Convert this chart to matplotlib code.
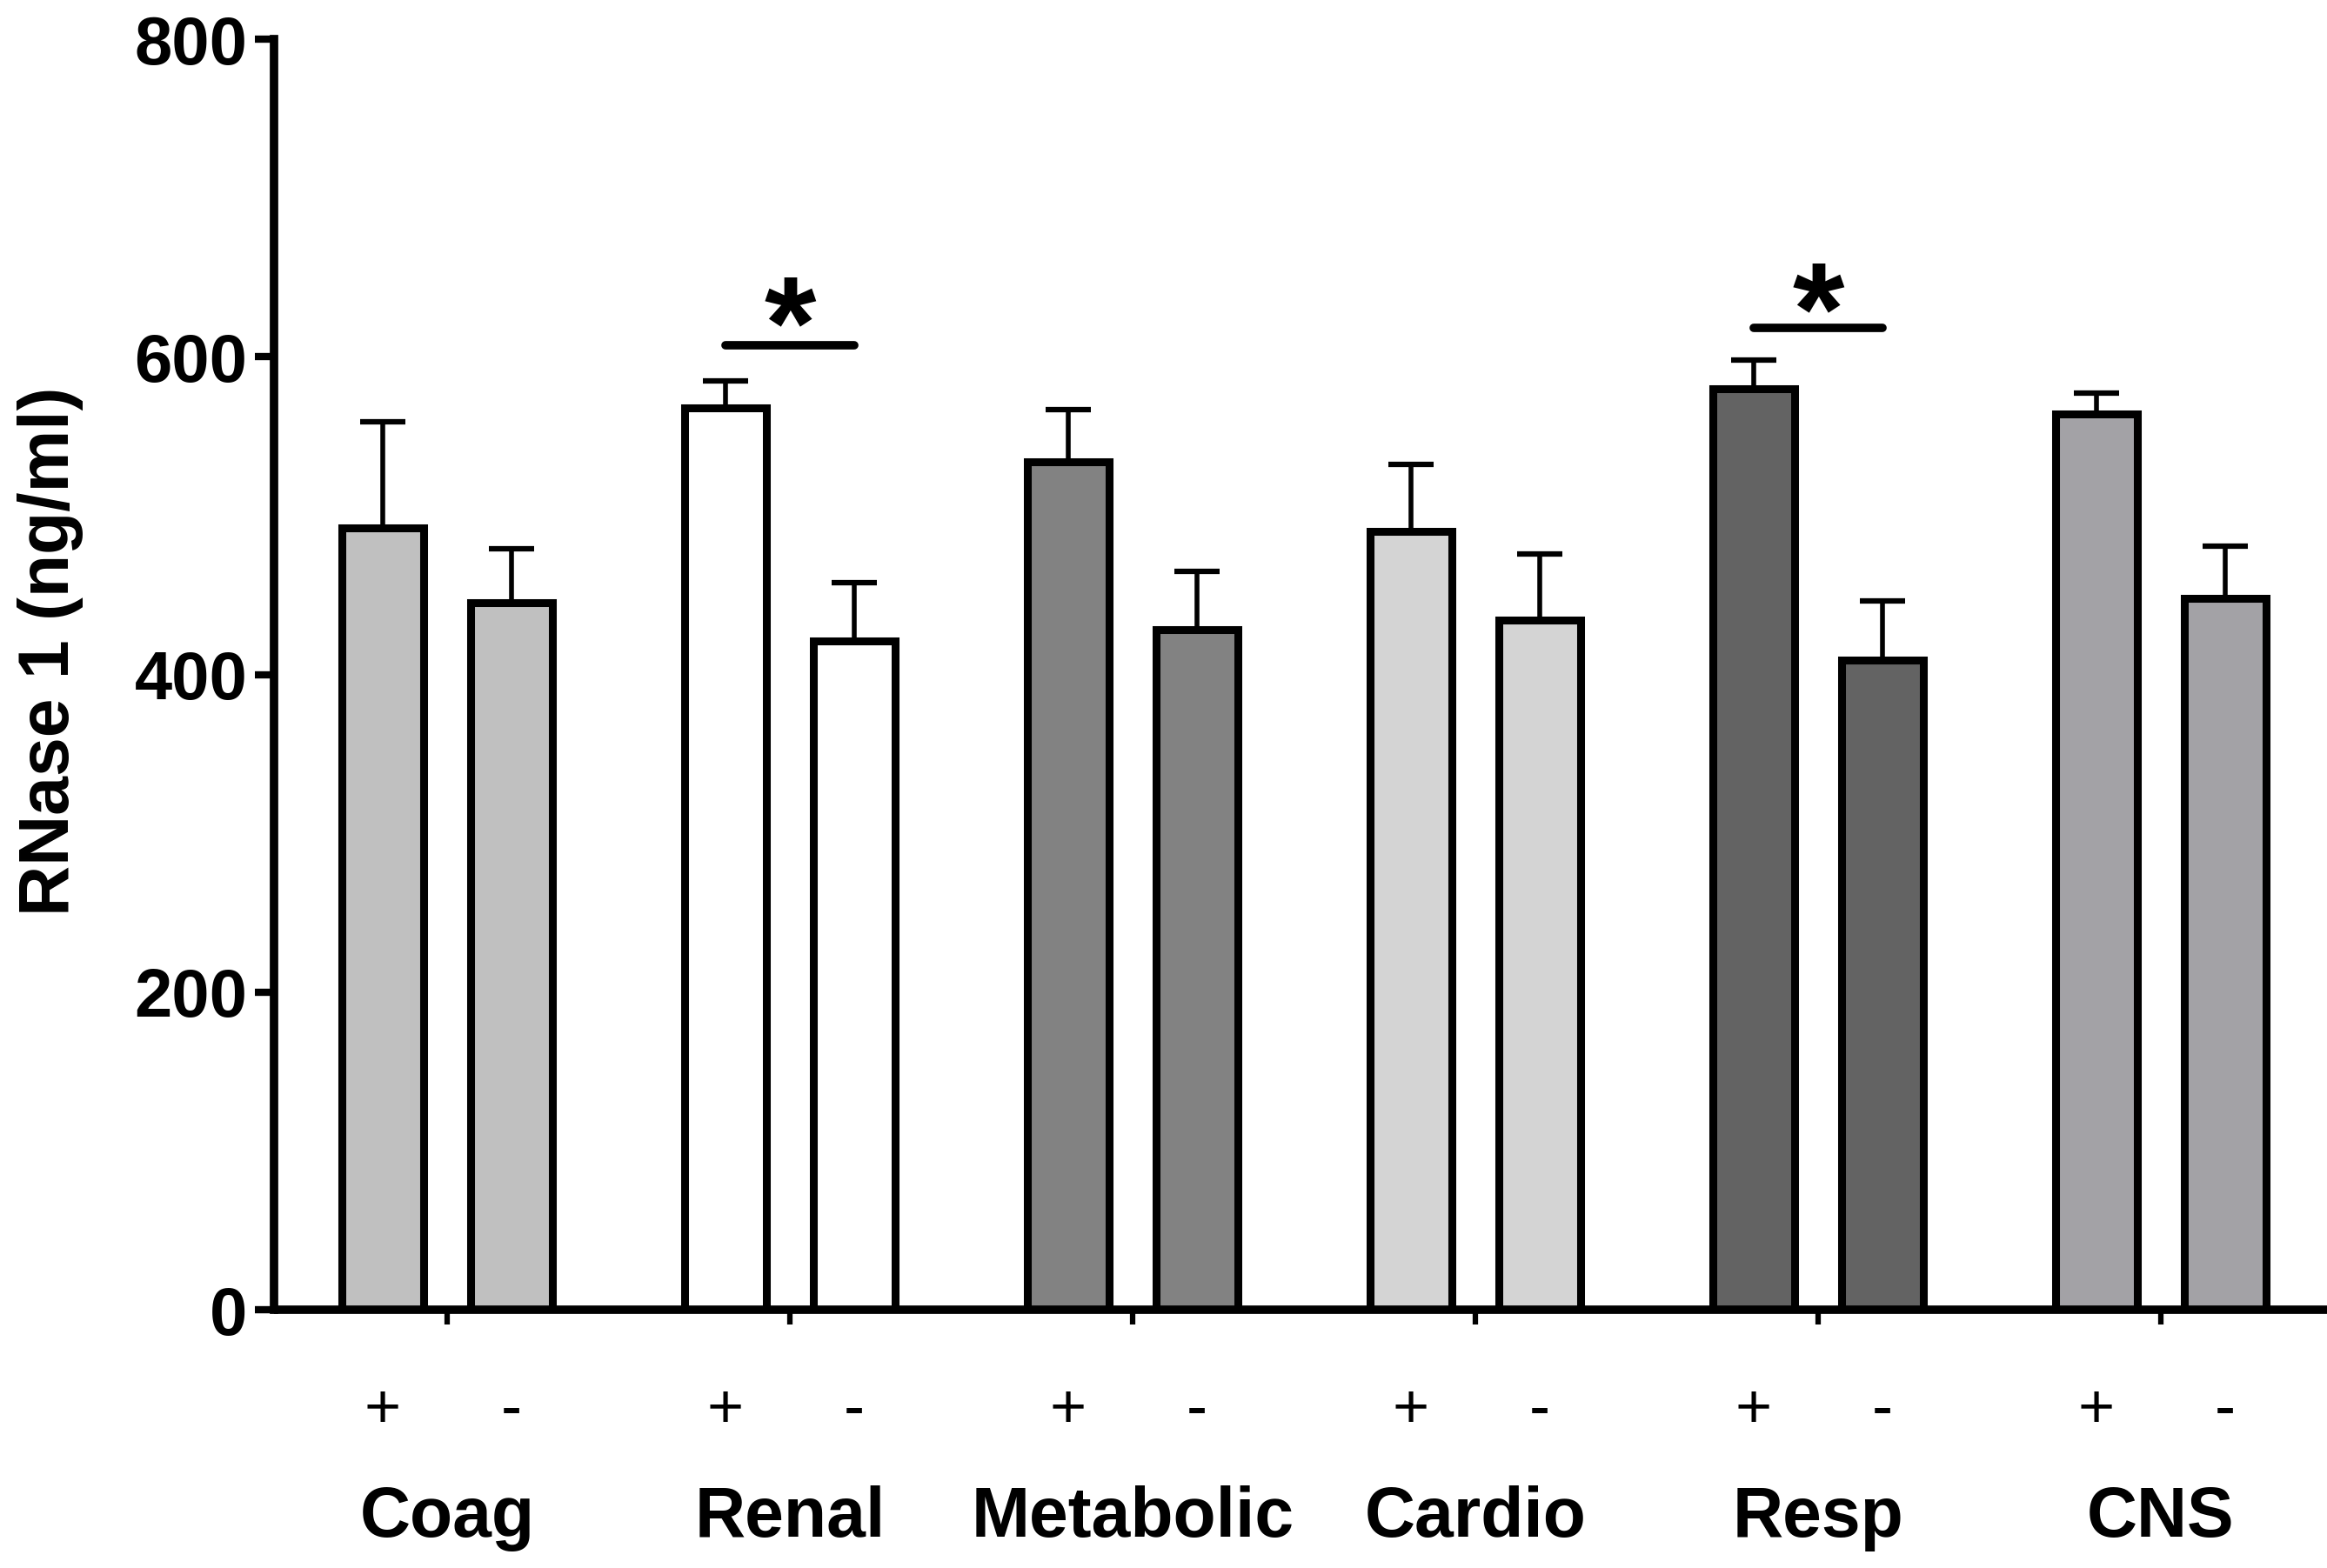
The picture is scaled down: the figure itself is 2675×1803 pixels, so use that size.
import matplotlib
matplotlib.use("Agg")
import matplotlib.pyplot as plt
import matplotlib.transforms as mtransforms
import numpy as np

plt.rcParams['font.family'] = ['Liberation Sans', 'DejaVu Sans']

categories = ["Coag", "Renal", "Metabolic", "Cardio", "Resp", "CNS"]
pos_values = [492, 568, 534, 490, 580, 564]
neg_values = [445, 421, 428, 434, 409, 448]
pos_err_top = [559, 585, 567, 532, 598, 577]
neg_err_top = [479, 458, 465, 476, 446, 481]
colors = ["#c0c0c0", "#ffffff", "#828282", "#d4d4d4", "#636363", "#a3a2a6"]
sign_labels = ["+", "-"]
yticks = [0, 200, 400, 600, 800]
ylabel = "RNase 1 (ng/ml)"
sig_groups = [1, 4]
sig_line_y = [607, 618]
sig_star_y = [614, 623]

W, H = 2675, 1803
fig = plt.figure(figsize=(W / 100, H / 100), dpi=100)
ax = fig.add_axes([315 / W, 1 - 1506 / H, 1 - 315 / W, (1506 - 45) / H])

x = np.arange(len(categories))
off = 0.188
bw = 0.24
xp = x - off
xn = x + off

pos_err = np.array(pos_err_top) - np.array(pos_values)
neg_err = np.array(neg_err_top) - np.array(neg_values)

ax.errorbar(xp, pos_values, yerr=[np.zeros(len(x)), pos_err], fmt='none',
            ecolor='black', elinewidth=4, capsize=19, capthick=4.5, zorder=1)
ax.errorbar(xn, neg_values, yerr=[np.zeros(len(x)), neg_err], fmt='none',
            ecolor='black', elinewidth=4, capsize=19, capthick=4.5, zorder=1)
ax.bar(xp, pos_values, width=bw, color=colors, edgecolor='black', linewidth=6.5, zorder=2)
ax.bar(xn, neg_values, width=bw, color=colors, edgecolor='black', linewidth=6.5, zorder=2)

for g, ly, sy in zip(sig_groups, sig_line_y, sig_star_y):
    ax.plot([g - off, g + off], [ly, ly], color='black', lw=7, solid_capstyle='round',
            zorder=3, clip_on=False)
    ax.text(g, sy, "*", ha='center', va='center', fontsize=110, fontweight='bold',
            zorder=3)

ax.set_xlim(-0.505, 5.485)
ax.set_ylim(0, 800)
ax.set_yticks(yticks)
ax.set_yticklabels([str(v) for v in yticks], fontsize=56, fontweight='bold')
ax.set_xticks(x)
ax.set_xticklabels([])
ax.tick_params(axis='y', length=16, width=6, pad=6)
ax.tick_params(axis='x', length=12, width=4.5)

for s in ['top', 'right']:
    ax.spines[s].set_visible(False)
for s in ['left', 'bottom']:
    ax.spines[s].set_linewidth(7)
    ax.spines[s].set_zorder(4)
ax.spines['bottom'].set_capstyle('butt')

trans = mtransforms.blended_transform_factory(ax.transData, fig.transFigure)
for i in range(len(categories)):
    ax.text(xp[i], 1 - 1615 / H, sign_labels[0], transform=trans, ha='center',
            va='center_baseline', fontsize=52)
    ax.text(xn[i], 1 - 1615 / H, sign_labels[1], transform=trans, ha='center',
            va='center_baseline', fontsize=52)
    ax.text(x[i], 1 - 1767 / H, categories[i], transform=trans, ha='center',
            va='baseline', fontsize=58, fontweight='bold')

fig.text(58 / W, 1 - 749 / H, ylabel, rotation=90, ha='center', va='center',
         fontsize=58, fontweight='bold')

fig.savefig("out.png", dpi=100)
